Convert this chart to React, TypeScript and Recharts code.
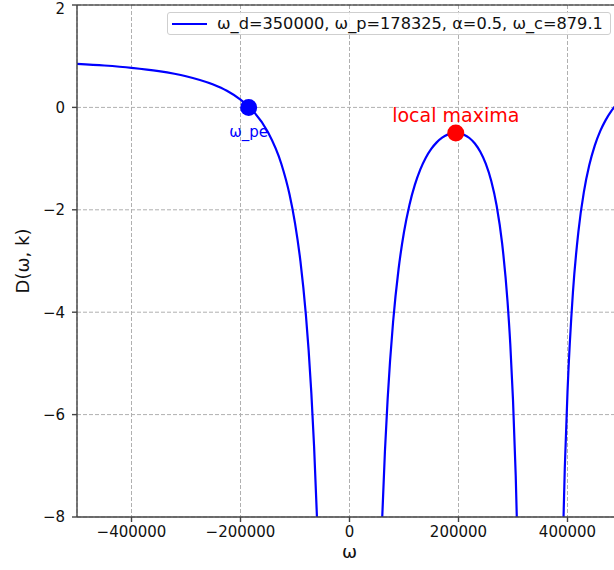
import React from "react";
import {
  LineChart,
  Line,
  XAxis,
  YAxis,
  CartesianGrid,
  ReferenceDot,
  ReferenceLine,
  Label,
} from "recharts";

// left branch (omega < 0)
const leftOmega = [
  -500000, -450000, -400000, -350000, -300000, -250000, -225000, -200000,
  -185000, -175000, -150000, -125000, -110000, -100000, -90000, -80000,
  -75000, -70000, -65000, -60000, -55000, -50000,
];
const leftD = [
  0.851, 0.818, 0.773, 0.708, 0.609, 0.447, 0.324, 0.152, 0.015, -0.096,
  -0.477, -1.106, -1.703, -2.259, -3.008, -4.055, -4.741, -5.58, -6.619,
  -7.928, -9.609, -11.82,
];

// middle branch (between 0 and omega_d)
const midOmega = [
  50000, 55000, 60000, 65000, 70000, 80000, 90000, 100000, 110000, 120000,
  130000, 140000, 150000, 160000, 170000, 180000, 190000, 195000, 200000,
  210000, 220000, 230000, 240000, 250000, 260000, 270000, 280000, 290000,
  295000, 300000, 305000, 310000, 315000,
];
const midD = [
  -11.9, -9.695, -8.022, -6.722, -5.693, -4.187, -3.161, -2.434, -1.904,
  -1.509, -1.21, -0.983, -0.811, -0.683, -0.591, -0.532, -0.502, -0.498,
  -0.502, -0.532, -0.598, -0.705, -0.866, -1.099, -1.433, -1.921, -2.651,
  -3.795, -4.622, -5.713, -7.194, -9.268, -12.3,
];

// right branch (omega > omega_d)
const rightOmega = [
  385000, 390000, 395000, 400000, 410000, 420000, 430000, 440000, 450000,
  460000, 470000, 480000, 490000, 500000,
];
const rightD = [
  -12.19, -9.147, -7.056, -5.559, -3.606, -2.425, -1.656, -1.127, -0.747,
  -0.464, -0.248, -0.079, 0.056, 0.166,
];

const xTicks = [-400000, -200000, 0, 200000, 400000];
const yTicks = [-8, -6, -4, -2, 0, 2];

const omegaPe = { w: -185000, d: 0 };
const localMax = { w: 195000, d: -0.5 };

const legendText = "ω_d=350000, ω_p=178325, α=0.5, ω_c=879.1";

const toRows = (ws: number[], ds: number[]) =>
  ws.map((w, i) => ({ w, d: ds[i] }));

const leftData = toRows(leftOmega, leftD);
const midData = toRows(midOmega, midD);
const rightData = toRows(rightOmega, rightD);

const FONT = "DejaVu Sans, sans-serif";
const fmt = (v: number) => String(v).replace("-", "\u2212");

export default function App() {
  return (
    <div
      style={{
        position: "fixed",
        left: 0,
        top: 0,
        width: 614,
        height: 570,
        overflow: "hidden",
        background: "#fff",
        fontFamily: FONT,
      }}
    >
      <LineChart
        width={640}
        height={570}
        margin={{ top: 5, right: 18, bottom: 0, left: 0 }}
      >
        <CartesianGrid
          stroke='#b0b0b0'
          strokeDasharray='4 2'
          strokeWidth={1}
        />
        <XAxis
          type='number'
          dataKey='w'
          domain={[-500000, 500000]}
          ticks={xTicks}
          allowDataOverflow
          height={53}
          tickSize={5}
          tickMargin={4}
          tickFormatter={fmt}
          stroke='#444'
          strokeWidth={1.4}
          tick={{ fill: "#111", fontSize: 15, fontFamily: FONT }}
        >
          <Label
            value='ω'
            position='insideBottom'
            offset={12}
            style={{ fontSize: 18, fill: "#111", fontFamily: FONT }}
          />
        </XAxis>
        <YAxis
          type='number'
          domain={[-8, 2]}
          ticks={yTicks}
          allowDataOverflow
          width={77}
          tickSize={5}
          tickMargin={7}
          tickFormatter={fmt}
          stroke='#444'
          strokeWidth={1.4}
          tick={{ fill: "#111", fontSize: 15, fontFamily: FONT }}
        >
          <Label
            value='D(ω, k)'
            angle={-90}
            position='insideLeft'
            offset={23}
            style={{
              fontSize: 18,
              fill: "#111",
              fontFamily: FONT,
              textAnchor: "middle",
            }}
          />
        </YAxis>
        <ReferenceLine y={2} stroke='#111' strokeWidth={1.2} />
        <Line
          data={leftData}
          dataKey='d'
          type='monotone'
          stroke='#0000ff'
          strokeWidth={2.2}
          dot={false}
          isAnimationActive={false}
        />
        <Line
          data={midData}
          dataKey='d'
          type='monotone'
          stroke='#0000ff'
          strokeWidth={2.2}
          dot={false}
          isAnimationActive={false}
        />
        <Line
          data={rightData}
          dataKey='d'
          type='monotone'
          stroke='#0000ff'
          strokeWidth={2.2}
          dot={false}
          isAnimationActive={false}
        />
        <ReferenceDot
          x={omegaPe.w}
          y={omegaPe.d}
          r={8.5}
          fill='#0000ff'
          stroke='none'
        >
          <Label
            value='ω_pe'
            position='bottom'
            offset={10}
            style={{ fontSize: 15, fill: "#0000ff", fontFamily: FONT }}
          />
        </ReferenceDot>
        <ReferenceDot
          x={localMax.w}
          y={localMax.d}
          r={8.5}
          fill='#ff0000'
          stroke='none'
        >
          <Label
            value='local maxima'
            position='top'
            offset={3}
            style={{ fontSize: 19, fill: "#ff0000", fontFamily: FONT }}
          />
        </ReferenceDot>
      </LineChart>
      <div
        style={{
          position: "absolute",
          left: 167,
          top: 12,
          width: 444,
          height: 23,
          boxSizing: "border-box",
          border: "1px solid #cfcfcf",
          borderRadius: 3,
          background: "rgba(255,255,255,0.85)",
          display: "flex",
          alignItems: "center",
          fontSize: 16.2,
          color: "#111",
          whiteSpace: "nowrap",
        }}
      >
        <span
          style={{
            display: "inline-block",
            width: 35,
            height: 2,
            background: "#0000ff",
            marginLeft: 4,
            marginRight: 10,
          }}
        />
        <span>{legendText}</span>
      </div>
    </div>
  );
}
